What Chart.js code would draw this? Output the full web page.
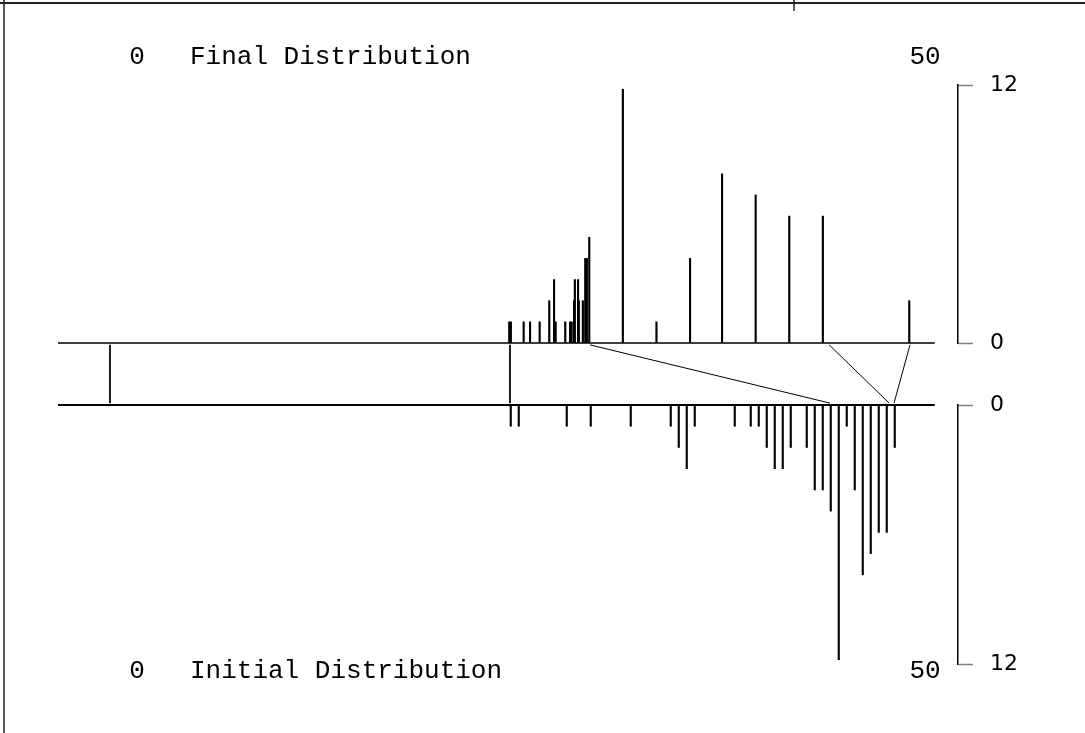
<!DOCTYPE html>
<html>
<head>
<meta charset="utf-8">
<script src="https://cdn.jsdelivr.net/npm/chart.js@4.4.1/dist/chart.umd.min.js"></script>
<style>
  html, body { margin: 0; padding: 0; background: #fff; }
  #wrap { width: 1085px; height: 733px; position: relative; }
</style>
</head>
<body>
<div id="wrap"><canvas id="chart"></canvas></div>
<script>
// final distribution (top): score and number of cases
const finalScores = [24.0, 24.1, 24.9, 25.3, 25.9, 26.5, 26.8, 26.9, 27.5, 27.8, 27.9, 28.05, 28.1, 28.3, 28.35,
  28.6, 28.75, 28.85, 29.0, 31.1, 33.2, 35.3, 37.3, 39.4, 41.5, 43.6, 49.0];
const finalCounts = [1, 1, 1, 1, 1, 2, 3, 1, 1, 1, 1, 2, 3, 3, 2,
  2, 4, 4, 5, 12, 1, 4, 8, 7, 6, 6, 2];

// initial distribution (bottom, drawn downwards)
const initialScores = [24.0, 24.5, 27.5, 29.0, 31.5, 34.0, 34.5, 35.0, 35.5, 38.0, 39.0, 39.5, 40.0, 40.5,
  41.0, 41.5, 42.5, 43.0, 43.5, 44.0, 44.5, 45.0, 45.5, 46.0, 46.5, 47.0, 47.5, 48.0];
const initialCounts = [1, 1, 1, 1, 1, 1, 2, 3, 1, 1, 1, 1, 2, 3,
  3, 2, 2, 4, 4, 5, 12, 1, 4, 8, 7, 6, 6, 2];

// links between the two distributions: final score -> initial score
const linkFinal = [-1, 24, 29, 43.95, 49];
const linkInitial = [-1, 24, 44, 47.7, 48];

const countTicks = ['0', '12'];
const scoreLabels = ['0', '50'];
const countMax = 12.2;

const mono = '"Liberation Mono", "DejaVu Sans Mono", monospace';

function countAxis(weight, reverse) {
  return {
    type: 'linear',
    position: 'right',
    stack: 'rows',
    stackWeight: weight,
    reverse: reverse,
    min: 0,
    max: countMax,
    afterBuildTicks: s => { s.ticks = [{ value: 0 }, { value: countMax }]; },
    afterFit: s => { s.width = 127; },
    ticks: {
      callback: (v, i) => countTicks[i],
      color: '#000',
      padding: 17,
      font: { family: 'DejaVu Sans', size: 22 }
    },
    grid: { drawOnChartArea: false, drawTicks: true, tickLength: 15, tickColor: '#808080', tickWidth: 1.5 },
    border: { display: true, color: '#000', width: 1.5 }
  };
}

const links = linkFinal.map((f, i) => ({
  type: 'line',
  data: [{ x: f, y: 0.97 }, { x: linkInitial[i], y: 0.03 }],
  yAxisID: 'yM',
  borderColor: '#000',
  borderWidth: 1,
  pointRadius: 0,
  tension: 0
}));

const decor = {
  id: 'decor',
  beforeDraw(chart) {
    const c = chart.ctx;
    c.save();
    c.fillStyle = '#fff';
    c.fillRect(0, 0, chart.width, chart.height);
    c.restore();
  },
  afterDraw(chart) {
    const c = chart.ctx;
    const xs = chart.scales.x, m = chart.scales.yM;
    const left = chart.chartArea.left, right = xs.getPixelForValue(50.55);
    const seg = (x1, y1, x2, y2, w) => {
      c.lineWidth = w;
      c.beginPath(); c.moveTo(x1, y1); c.lineTo(x2, y2); c.stroke();
    };
    c.save();
    c.strokeStyle = '#000';
    seg(left, m.top, right, m.top, 1.5);
    seg(left, m.bottom, right, m.bottom, 2);

    // page frame
    c.strokeStyle = '#222';
    seg(4, 0, 4, chart.height, 1.5);
    seg(0, 3, chart.width, 3, 2);
    seg(794, 0, 794, 11, 1.5);

    // distribution labels
    c.fillStyle = '#000';
    c.font = '26px ' + mono;
    c.textBaseline = 'middle';
    const rows = [[57, 'Final Distribution'], [671, 'Initial Distribution']];
    rows.forEach(([y, title]) => {
      c.textAlign = 'center';
      c.fillText(scoreLabels[0], 137, y);
      c.fillText(scoreLabels[1], 925, y);
      c.textAlign = 'left';
      c.fillText(title, 190, y);
    });
    c.restore();
  }
};

new Chart(document.getElementById('chart'), {
  type: 'bar',
  data: {
    datasets: [
      {
        label: 'Final',
        data: finalScores.map((x, i) => ({ x: x, y: finalCounts[i] })),
        yAxisID: 'yF',
        backgroundColor: '#000',
        barThickness: 1.5
      },
      {
        label: 'Initial',
        data: initialScores.map((x, i) => ({ x: x, y: initialCounts[i] })),
        yAxisID: 'yI',
        backgroundColor: '#000',
        barThickness: 1.5
      },
      ...links
    ]
  },
  options: {
    responsive: true,
    maintainAspectRatio: false,
    animation: false,
    layout: { padding: { left: 58, top: 85, bottom: 69, right: 0 } },
    scales: {
      x: { type: 'linear', min: -4.25, max: 52, offset: false, display: false },
      yF: countAxis(258, false),
      yM: {
        type: 'linear', position: 'right', stack: 'rows', stackWeight: 62,
        min: 0, max: 1,
        afterFit: s => { s.width = 127; },
        ticks: { display: false },
        grid: { display: false },
        border: { display: false }
      },
      yI: countAxis(259, true)
    },
    plugins: {
      legend: { display: false },
      tooltip: { enabled: false }
    }
  },
  plugins: [decor]
});
</script>
</body>
</html>
